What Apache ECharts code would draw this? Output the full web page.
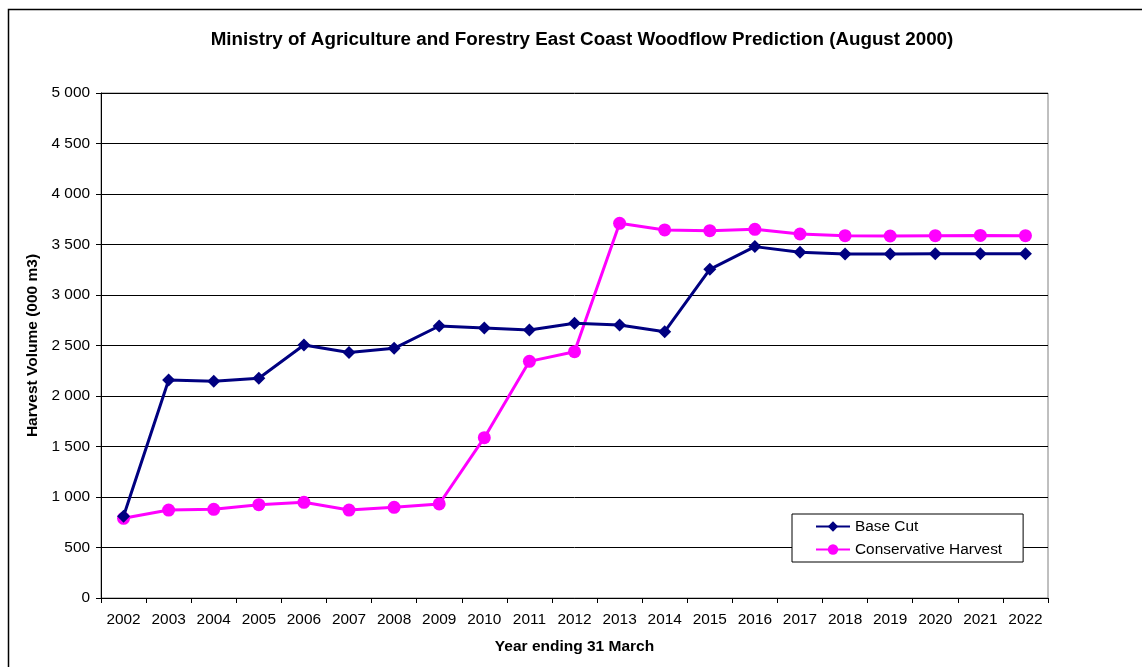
<!DOCTYPE html>
<html><head><meta charset="utf-8">
<script src="https://cdn.jsdelivr.net/npm/echarts@6/dist/echarts.min.js"></script>
<style>html,body{margin:0;padding:0;background:#fff}#c{width:1142px;height:667px}</style>
</head><body><div id="c"></div>
<script>
var years = ['2002','2003','2004','2005','2006','2007','2008','2009','2010','2011','2012','2013','2014','2015','2016','2017','2018','2019','2020','2021','2022'];
var baseCut = [810,2158,2145,2175,2505,2430,2472,2693,2673,2653,2720,2703,2637,3254,3479,3423,3406,3406,3409,3409,3409];
var conservative = [789,871,878,924,947,871,898,931,1587,2343,2439,3710,3644,3637,3650,3604,3587,3584,3587,3590,3587];
var yTicks = {min:0, max:5000, interval:500};

var F = 'Arial, "Liberation Sans", sans-serif';
var chart = echarts.init(document.getElementById('c'), null, {renderer:'canvas'});
chart.setOption({
  animation:false,
  backgroundColor:'#fff',
  title:{text:'Ministry of Agriculture and Forestry East Coast Woodflow Prediction (August 2000)',
    left:577, top:25, textAlign:'center',
    textStyle:{fontFamily:F, fontSize:18.8, fontWeight:'bold', color:'#000'}},
  graphic:[{type:'rect', shape:{x:8.5, y:9.5, width:1140, height:665}, style:{fill:'none', stroke:'#000', lineWidth:1.5}, silent:true}],
  legend:{left:792, top:514, orient:'vertical', itemGap:8, padding:[5,21,5,23],
    borderColor:'#000', borderWidth:1, backgroundColor:'#fff', itemWidth:34, itemHeight:13,
    textStyle:{fontFamily:F, fontSize:15.4, color:'#000'},
    data:['Base Cut','Conservative Harvest']},
  grid:{left:101, top:93, right:94, bottom:69, show:true, borderColor:'#808080', borderWidth:1},
  xAxis:{type:'category', data:years, boundaryGap:true,
    name:'Year ending 31 March', nameLocation:'middle', nameGap:41,
    nameTextStyle:{fontFamily:F, fontSize:15.5, fontWeight:'bold', color:'#000'},
    axisLine:{lineStyle:{color:'#000', width:1}},
    axisTick:{show:true, alignWithLabel:false, length:5, lineStyle:{color:'#000'}},
    axisLabel:{fontFamily:F, fontSize:15.4, color:'#000', margin:14, interval:0},
    splitLine:{show:false}},
  yAxis:{type:'value', min:yTicks.min, max:yTicks.max, interval:yTicks.interval,
    name:'Harvest Volume (000 m3)', nameLocation:'middle', nameGap:53,
    nameTextStyle:{fontFamily:F, fontSize:15.5, fontWeight:'bold', color:'#000'},
    axisLine:{show:true, lineStyle:{color:'#000', width:1}},
    axisTick:{show:true, length:5, lineStyle:{color:'#000'}},
    axisLabel:{fontFamily:F, fontSize:15.4, color:'#000', margin:11,
      formatter:function(v){return String(v).replace(/\B(?=(\d{3})+(?!\d))/g,' ');}},
    splitLine:{show:true, lineStyle:{color:'#000', width:1}}},
  series:[
    {name:'Base Cut', type:'line', data:baseCut, symbol:'diamond', symbolSize:13,
      itemStyle:{color:'#000080'}, lineStyle:{color:'#000080', width:3}, z:3},
    {name:'Conservative Harvest', type:'line', data:conservative, symbol:'circle', symbolSize:13,
      itemStyle:{color:'#FF00FF'}, lineStyle:{color:'#FF00FF', width:3}, z:2}
  ]
});
</script></body></html>
